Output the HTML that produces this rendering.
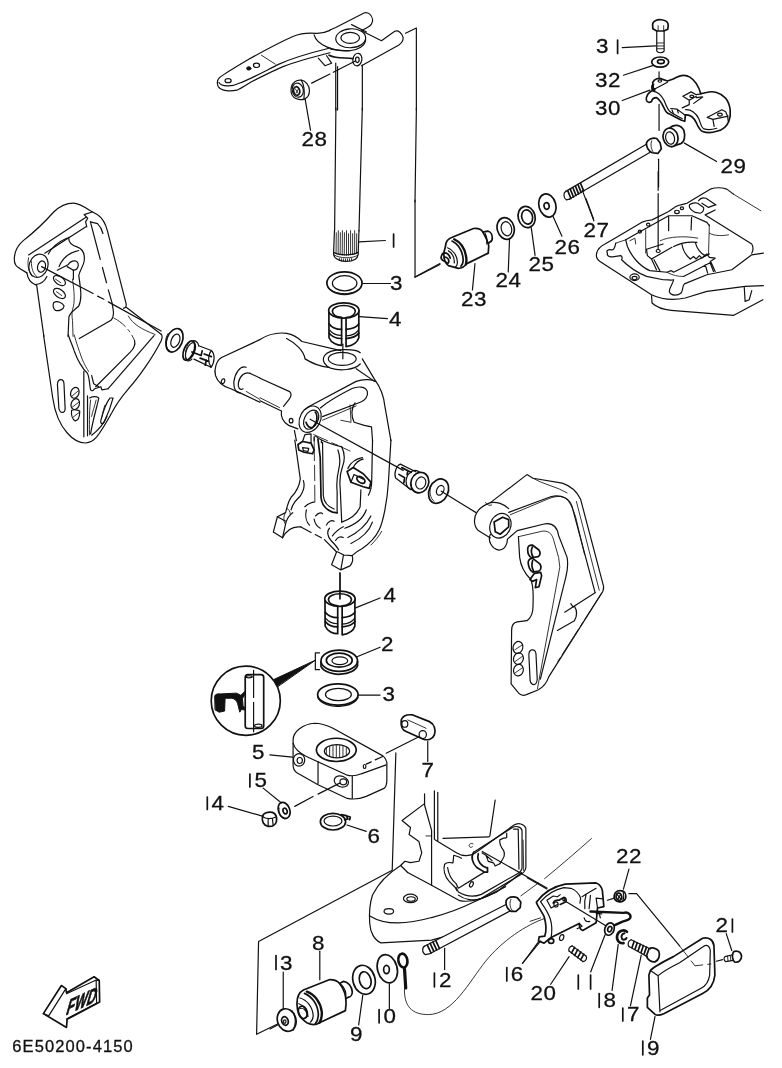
<!DOCTYPE html>
<html><head><meta charset="utf-8">
<style>
html,body{margin:0;padding:0;background:#fff;}
svg{display:block;filter:grayscale(1)}
svg *{vector-effect:non-scaling-stroke}
.s{fill:none;stroke:#111;stroke-width:1.2;stroke-linecap:round;stroke-linejoin:round}
.t{fill:none;stroke:#111;stroke-width:0.85;stroke-linecap:round;stroke-linejoin:round}
.b{fill:none;stroke:#111;stroke-width:1.7;stroke-linecap:round;stroke-linejoin:round}
.w{fill:#fff;stroke:#111;stroke-width:1.2;stroke-linejoin:round;stroke-linecap:round}
.k{fill:#111;stroke:#111;stroke-width:1}
.n{font-family:"Liberation Sans",sans-serif;font-size:20px;fill:#111;stroke:#111;stroke-width:0.3;letter-spacing:0.6px;transform-box:fill-box;transform-origin:left center;transform:scaleX(1.12)}
.c{font-family:"Liberation Sans",sans-serif;font-size:16.5px;fill:#111;letter-spacing:0.6px}
</style></head>
<body>
<svg width="782" height="1068" viewBox="0 0 782 1068">
<rect width="782" height="1068" fill="#fff"/>
<!--ARM left tile origin(210,15) s=6.5167-->
<g transform="translate(210,15) scale(0.15345)" class="s">
<path d="M782,100 C760,110 730,122 690,120 C640,115 590,120 540,140 C450,180 330,245 250,290 C150,350 90,385 60,410 C45,425 45,452 55,468 C75,495 130,500 175,490 C200,480 230,460 270,435 C350,395 420,360 480,335 C570,300 680,272 782,246"/>
<path d="M58,440 C75,468 140,470 190,445 C260,420 350,370 450,320 C550,275 680,240 782,215"/>
<path d="M335,262 L425,320" class="t"/>
<ellipse cx="253" cy="348" rx="14" ry="11" class="k"/>
<ellipse cx="303" cy="328" rx="20" ry="14"/>
<ellipse cx="118" cy="428" rx="20" ry="13"/>
</g>
<!--ARM right tile origin(300,10) s=6.0154-->
<g transform="translate(300,10) scale(0.16624)" class="s">
<path d="M180,120 L215,105 L385,18 C410,10 435,30 437,60 C437,80 425,95 405,105 L370,125 L490,185 L570,128 C590,118 615,140 620,165 C622,185 610,200 595,210 L370,335"/>
<path d="M310,88 L400,132"/>
<ellipse cx="305" cy="170" rx="90" ry="57" transform="rotate(-3 305 170)"/>
<ellipse cx="302" cy="168" rx="56" ry="33"/>
<path d="M85,150 C100,210 200,250 300,245 C350,240 392,215 395,180"/>
<path d="M185,235 C230,242 270,246 300,245"/>
<path d="M110,290 L150,335 L190,320 L160,275"/>
<path d="M175,272 C220,295 270,285 318,292" class="b"/>
<ellipse cx="345" cy="298" rx="27" ry="38" transform="rotate(10 345 298)"/>
<ellipse cx="345" cy="300" rx="11" ry="16"/>
<path d="M70,440 L180,385 M200,375 L330,308"/>
<path d="M215,320 L215,602 M226,340 L226,602" class="s"/>
<path d="M375,332 L375,602"/>
<path d="M635,140 L700,108 L700,602"/>
</g>
<!--tube mid (between tiles)-->
<g class="s">
<path d="M335.9,108 L334.6,231 M362.3,108 L359,231 M416.4,108 L415,202"/>
</g>
<!--tube bottom/washer/bushing tile origin(280,200) s=4.8875-->
<g transform="translate(280,200) scale(0.2046)" class="s">
<path d="M266,150 L262,262 C262,285 290,300 322,300 C355,300 380,288 382,265 L386,150"/>
<path d="M262,255 C285,272 355,272 382,256"/>
<path d="M264,268 C290,287 355,287 381,270" class="t"/>
<path d="M275,160 L274,262 M285,150 L284,266 M295,160 L294,268 M305,150 L304,270 M315,160 L314,270 M325,150 L325,270 M335,165 L335,270 M345,150 L345,268 M355,165 L355,266 M365,150 L365,263 M375,165 L374,260" class="t"/>
<path d="M290,285 L290,295 M300,287 L300,298 M310,288 L310,299 M320,288 L320,300 M330,288 L330,299 M340,287 L340,298 M350,285 L350,296" class="t"/>
<path d="M386,205 L515,198"/>
<!--washer3-->
<ellipse cx="315" cy="406" rx="86" ry="55" class="b"/>
<ellipse cx="316" cy="407" rx="60" ry="37"/>
<path d="M232,420 C250,470 380,472 400,418" class="t"/>
<path d="M402,408 L540,408"/>
<path d="M388,570 L525,580"/>
<!--bracket line bottom-->
<path d="M660,0 L660,378 L782,315"/>
</g>
<text x="390" y="290" class="n">3</text>
<text x="389" y="326" class="n">4</text>
<path d="M393.6,234 L393.6,247" class="b"/>

<g transform="translate(318.9,291.7) scale(0.076726)"><g class="b" style="stroke-width:1.7">
<path d="M130,245 L132,600 C160,670 240,700 296,700 L296,345 M354,345 L354,715 C420,705 500,670 520,600 L520,245" style="fill:#fff"/>
<ellipse cx="325" cy="245" rx="198" ry="100" style="fill:#fff"/>
<path d="M296,335 C230,330 180,300 175,255 C180,205 250,180 325,180 C400,180 470,205 475,255 C470,300 420,330 354,337" style="stroke-width:1.6"/>
<path d="M135,420 C170,470 240,490 296,490 M354,490 C420,485 490,460 520,420"/>
<path d="M140,500 C175,545 240,570 296,570 M354,575 C420,570 490,540 515,500" style="stroke-width:1.2"/>
<path d="M135,540 C170,590 240,610 296,610 M354,612 C420,605 490,580 520,540"/>
</g></g>
<g transform="translate(210,15) scale(0.15345)" class="s">
<path d="M530,470 C535,440 565,420 595,425 C625,430 648,460 648,490 C648,520 635,540 615,548 C595,555 560,550 545,535 C530,520 525,495 530,470Z"/>
<path d="M595,425 C610,450 618,500 612,548"/>
<ellipse cx="572" cy="490" rx="36" ry="46" transform="rotate(-12 572 490)"/>
<ellipse cx="565" cy="495" rx="20" ry="28" transform="rotate(-12 565 495)" class="b"/>
<path d="M555,480 L575,510 M560,510 L575,485" class="t"/>
<path d="M620,548 L655,750"/>
</g>
<text x="301.5" y="146.3" class="n">28</text>
<!--LEFT BRACKET top tile origin(0,195) s=5.5857-->
<g transform="translate(0,195) scale(0.17903)" class="s">
<path d="M150,435 L110,410 C90,400 80,385 80,360 C80,320 95,285 130,255 C200,200 260,140 300,95 C330,65 370,45 410,45 C440,45 470,65 500,85 L545,110 C575,130 590,160 600,200 L705,610 C706,625 700,632 690,632"/>
<path d="M150,435 C155,465 170,490 195,500 L205,505 L245,790"/>
<path d="M195,500 C225,500 250,480 262,455" />
<path d="M707,628 L900,778"/>
<path d="M717,676 C740,720 790,750 866,779" class="t"/>
<path d="M470,110 L515,95 M470,110 L490,130 L478,150 L485,178"/>
<path d="M478,125 L160,335 M480,178 L250,325"/>
<path d="M505,150 L545,160 C560,175 570,195 575,215"/>
<path d="M505,150 L560,360 M572,405 L595,490 M605,530 L625,600 C635,650 640,680 620,700 L443,802"/>
<ellipse cx="215" cy="395" rx="52" ry="66" transform="rotate(18 215 395)"/>
<ellipse cx="232" cy="400" rx="22" ry="32" transform="rotate(15 232 400)"/>
<path d="M175,370 C175,410 185,440 205,455 M160,350 C150,390 160,430 180,455" class="t"/>
<path d="M385,235 C380,260 400,280 430,290 C460,300 475,330 470,370 C465,400 445,420 440,450 C450,520 460,580 440,620 C420,640 395,650 385,680 L380,790"/>
<path d="M375,240 C330,260 290,290 270,330"/>
<path d="M440,310 C390,320 350,350 330,400"/>
<path d="M320,420 L380,390 C400,360 440,360 437,395 C434,412 422,420 410,420 L375,400"/>
<path d="M410,420 L410,470"/>
<path d="M405,470 C415,540 420,600 405,640 C400,660 402,680 405,700 L408,790" class="t"/>
<ellipse cx="332" cy="478" rx="38" ry="22" transform="rotate(35 332 478)"/>
<ellipse cx="332" cy="550" rx="38" ry="22" transform="rotate(35 332 550)"/>
<path d="M300,600 C320,590 350,600 358,620 C355,640 330,650 310,645 C298,635 295,615 300,600Z"/>
<path d="M310,470 L340,490 M315,540 L345,562" class="t"/>
<path d="M232,400 L520,550 M545,565 L580,582 M605,597 L900,760"/>
</g>
<!--LEFT BRACKET bottom tile origin(20,310) s=4.8875-->
<g transform="translate(20,310) scale(0.2046)" class="s">
<path d="M115,122 L160,430 C170,500 195,560 230,600 C260,635 290,650 320,650 C345,648 360,638 375,620 C400,590 425,545 450,500 C470,460 500,420 530,385 C580,330 650,230 690,150 C696,135 696,125 690,118"/>
<path d="M655,125 L430,385"/>
<path d="M460,40 C500,60 540,100 560,150" class="t" stroke-dasharray="14 4 3 4"/>
<path d="M560,150 C565,170 555,190 540,205 L370,375"/>
<path d="M236,122 C245,150 258,178 265,200 C285,255 310,290 330,310 C340,330 340,370 345,390 C350,398 358,395 365,385 L395,375 L400,390 L430,385"/>
<path d="M265,122 C275,160 288,195 300,230 C315,270 330,290 335,300" class="t"/>
<path d="M350,320 L360,360 L385,375"/>
<path d="M312,300 L312,620 M330,420 L330,615" />
<path d="M200,340 C188,340 183,350 183,365 L190,480 C192,495 200,502 210,500 C220,498 222,485 220,470 L215,360 C214,345 208,340 200,340Z"/>
<ellipse cx="268" cy="405" rx="20" ry="27" transform="rotate(20 268 405)"/>
<ellipse cx="270" cy="460" rx="20" ry="27" transform="rotate(20 270 460)"/>
<path d="M252,490 C265,485 285,488 292,495 C292,520 285,540 270,542 C255,535 250,510 252,490Z"/>
<path d="M255,420 L285,395 M255,475 L288,450 M258,525 L290,500" class="t"/>
<path d="M340,430 C355,423 375,423 385,430 C380,460 360,520 345,605"/>
<path d="M345,440 C340,480 338,540 340,610" class="t"/>
<path d="M372,440 C365,470 355,495 350,520" class="t"/>
<path d="M440,430 C425,450 405,500 395,540 C393,555 400,560 410,550 C425,520 445,470 455,430 Z"/>
<path d="M415,465 C410,480 405,500 402,520" class="t"/>
<path d="M350,612 C385,585 410,555 425,520"/>
</g>
<!--SB-left tile origin(150,310) s=4.8875: washer, pin, tube end-->
<g transform="translate(150,310) scale(0.2046)" class="s">
<ellipse cx="120" cy="148" rx="38" ry="60" transform="rotate(22 120 148)" class="b"/>
<ellipse cx="124" cy="150" rx="20" ry="34" transform="rotate(22 124 150)"/>
<path d="M88,115 C70,140 72,185 95,200" class="t"/>
<!--pin-->
<ellipse cx="190" cy="198" rx="24" ry="50" transform="rotate(22 190 198)" class="b"/><ellipse cx="198" cy="201" rx="20" ry="44" transform="rotate(22 198 201)"/>
<path d="M210,150 C225,150 235,160 238,175 M180,248 C190,250 200,245 205,240"/>
<path d="M200,152 C178,165 165,215 178,245" class="t"/>
<path d="M238,175 L300,198 C318,215 318,255 298,280 L215,240"/>
<path d="M300,198 C285,215 280,250 298,280" />
<path d="M205,205 L250,222 L255,200 M245,235 L285,250 M265,215 L300,228 M270,270 L275,245" class="b"/>
<!--tube end-->
<path d="M350,232 C325,245 312,290 320,320 C330,350 360,375 395,385 L440,405"/>
<path d="M350,232 L537,145"/>
<path d="M470,280 C440,270 415,310 410,350 C408,385 420,405 440,405 L537,451"/>
<path d="M490,310 C465,300 440,320 432,355 C428,380 440,395 455,385"/>
<path d="M490,310 L537,332"/>
<path d="M470,398 L537,437" class="t"/>
<ellipse cx="357" cy="348" rx="8" ry="12" transform="rotate(20 357 348)"/>
</g>
<!--SB-top tile origin(260,320) s=4.8875-->
<g transform="translate(260,320) scale(0.2046)" class="s">
<path d="M0,95 C40,70 90,60 130,65 C160,70 190,90 205,105 L395,150"/>
<path d="M130,90 C170,110 215,150 220,190 C260,215 300,228 335,232"/>
<path d="M0,285 L145,350 C155,360 152,375 142,388 L115,422"/>
<path d="M0,395 L105,445 C100,470 112,500 140,515 L185,532"/>
<path d="M0,380 L95,428" class="t"/>
<ellipse cx="152" cy="492" rx="9" ry="11"/>
<ellipse cx="402" cy="190" rx="68" ry="32"/>
<path d="M490,160 C470,140 340,135 315,175 C300,200 320,225 345,235 C390,250 460,245 490,215"/>
<path d="M500,190 L560,290 C590,330 605,370 610,420 L640,590"/>
<path d="M470,238 L560,300"/>
<path d="M235,425 L470,300 C510,285 550,292 565,300"/>
<path d="M295,430 C330,400 400,360 450,335 C480,322 515,325 525,350 C530,375 510,395 490,402 L305,472"/>
<path d="M305,490 L470,420" class="t"/>
<path d="M465,405 C445,430 445,470 460,500 L510,515 L545,522 L550,590"/>
<path d="M440,415 L445,500 L395,490" class="t"/>
<ellipse cx="245" cy="485" rx="50" ry="68" transform="rotate(28 245 485)"/>
<ellipse cx="250" cy="487" rx="33" ry="50" transform="rotate(28 250 487)"/>
<path d="M270,450 C285,470 280,510 250,530 M225,500 C230,520 245,530 255,525" class="b"/>
<path d="M245,485 L700,735"/>
<path d="M262,560 L330,590 M350,600 L380,612 M400,622 L440,640" class="t"/>
<path d="M168,540 L178,590 M265,570 L265,590 M300,600 L300,590"/>
<path d="M405,118 L405,190"/>
</g>
<!--SB-bottom tile origin(260,440) s=4.8875-->
<g transform="translate(260,440) scale(0.2046)" class="s">
<path d="M170,0 L197,190 C192,230 172,260 152,280 C137,300 132,330 125,355 L85,375 L65,450 L110,478 C130,440 160,420 200,425"/>
<path d="M85,375 L128,398 L110,478 M128,398 C135,380 145,365 160,355"/>
<path d="M200,425 L250,452 M270,462 L300,478 M315,487 L372,545" />
<path d="M375,545 L350,610 L395,635 L440,615 C452,600 456,580 450,565 L410,562 L375,545 M395,635 L408,562"/>
<path d="M640,0 L628,200 C622,300 602,400 582,440 C562,480 530,510 500,530 C480,540 460,555 450,565"/>
<path d="M550,0 L546,200 C546,230 540,250 530,270"/>
<path d="M392,650 L392,782"/>
</g>
<!--SB3 tile origin(265,430) s=6.5167-->
<g transform="translate(265,430) scale(0.15345)" class="s">
<path d="M250,330 C260,360 250,400 230,430 C200,460 180,480 170,520"/>
<path d="M320,50 L322,200 M323,230 L324,330 M324,360 L325,470" class="t"/>
<path d="M345,60 C350,100 355,140 360,180 L365,440 C370,490 400,520 440,535 L470,540" class="b"/>
<path d="M375,80 L380,430 C385,470 410,500 450,515"/>
<path d="M500,110 C520,150 520,200 505,240 C490,280 485,330 490,380 L500,600"/>
<path d="M475,130 C490,170 490,220 480,260 C470,300 465,350 470,400 L470,540"/>
<path d="M330,40 C360,70 420,90 500,110"/>
<!--left bolt-->
<path d="M215,95 L245,75 L300,85 L320,130 L310,155 L255,145 L220,130 Z" class="b"/>
<path d="M245,115 L285,120 L280,140 L250,135 Z M245,75 L260,30 L300,25 L300,85"/>
<!--right bolt-->
<path d="M535,270 L575,245 L640,285 L690,340 L680,380 L640,370 L560,340 Z" class="b"/>
<ellipse cx="625" cy="325" rx="30" ry="18" transform="rotate(35 625 325)" class="b"/>
<path d="M575,245 C590,215 615,195 640,190 M540,250 C560,210 600,185 635,180 M560,340 L580,290 L640,320"/>
<!--webs-->
<path d="M260,500 C280,480 310,470 320,470 M270,520 C260,560 270,600 290,620 M330,560 C345,540 365,535 375,545 M320,580 C325,610 340,630 360,640 M400,620 C410,595 435,585 450,595 M420,640 C400,660 410,700 430,720 M440,690 C460,660 490,640 510,630 M430,720 C450,740 470,760 480,782 M460,720 C470,700 490,690 510,700"/>
<path d="M500,600 C560,580 600,550 620,500 L625,390 M520,640 C580,620 640,580 660,520 M540,700 C600,670 660,620 690,560 M560,740 C620,710 680,660 700,600"/>
<path d="M690,750 C720,720 745,690 760,660" class="t"/>
<path d="M140,510 C155,515 165,530 165,550 M130,545 C120,565 120,590 130,610" class="t"/>
</g>
<!--R1 tile origin(385,440) s=4.8875: right pin, washer-->
<g transform="translate(385,440) scale(0.2046)" class="s">
<path d="M75,118 L150,155 M52,186 L125,242 M75,118 C55,125 42,165 52,186"/>
<ellipse cx="142" cy="196" rx="38" ry="48" transform="rotate(20 142 196)"/>
<ellipse cx="170" cy="208" rx="43" ry="51" transform="rotate(20 170 208)" class="b" style="fill:#fff"/>
<ellipse cx="175" cy="210" rx="24" ry="30" transform="rotate(20 175 210)"/>
<path d="M82,135 L112,150 L108,170 M68,168 L96,184 L92,210 M112,150 L128,158" class="b"/>
<ellipse cx="262" cy="250" rx="46" ry="62" transform="rotate(25 262 250)" class="b"/>
<ellipse cx="270" cy="246" rx="17" ry="25" transform="rotate(25 270 246)"/>
<path d="M225,225 C215,250 220,285 240,300" class="t"/>
<path d="M275,250 L445,355"/>
</g>
<!--RB tile origin(460,460) s=4.1077-->
<g transform="translate(460,460) scale(0.24345)" class="s">
<path d="M125,320 L75,290 C55,270 55,235 70,215 C80,195 100,185 125,175 L275,60 L300,75 L420,95 C450,105 480,130 495,160 L590,520 C590,535 585,545 580,550 L365,890 C355,920 340,935 320,945 L270,965 C255,970 245,965 235,950 L210,920 L212,700 C212,680 218,668 235,665 L275,660 C290,650 300,630 300,600 C300,560 305,520 290,490 C270,470 250,440 245,400 L240,315"/>
<path d="M125,305 C112,330 130,365 160,370 C185,368 195,345 195,325 L235,290 L350,262 C385,258 400,280 405,310 L440,400 C445,430 440,460 435,480 L330,900"/>
<path d="M240,315 L340,292 C370,290 380,310 385,330 L405,400 L410,440 L318,940" class="t"/>
<path d="M200,215 L375,150 C420,140 450,160 460,190 L555,545"/>
<path d="M478,170 L572,535" class="t"/>
<path d="M125,175 C150,170 180,180 200,200"/>
<path d="M300,75 C340,100 400,110 440,135" class="t"/>
<ellipse cx="166" cy="270" rx="42" ry="52" transform="rotate(25 166 270)"/>
<path d="M140,255 L175,235 L200,245 L200,275 L165,305 L145,295 Z" class="b"/>
<path d="M105,175 C110,185 120,188 130,185" class="t"/>
<path d="M555,545 L470,600 C482,620 482,640 470,660 L400,700"/>
<path d="M455,590 L465,605 M430,625 L470,600"/>
<path d="M580,550 L400,830" class="t" stroke-dasharray="30 4 4 4"/>
<!--lower slots-->
<ellipse cx="238" cy="770" rx="20" ry="25" transform="rotate(15 238 770)"/>
<ellipse cx="240" cy="816" rx="20" ry="24" transform="rotate(15 240 816)"/>
<ellipse cx="240" cy="863" rx="20" ry="24" transform="rotate(15 240 863)"/>
<path d="M225,780 L255,760 M226,828 L257,806 M226,875 L257,853" class="t"/>
<path d="M295,780 C285,782 282,792 283,805 L288,905 C290,918 298,924 306,922 C315,918 318,908 317,895 L312,795 C310,783 304,778 295,780Z"/>
</g>

<!--RB2 tile origin(470,465) s=5.5857-->
<g transform="translate(470,465) scale(0.17903)" class="s">
<path d="M322,470 C322,452 335,445 350,448 L385,475 C395,490 393,505 380,512 L345,518 C330,512 322,490 322,470Z" class="b"/>
<path d="M348,458 C340,478 343,500 353,514" class="b"/>
<path d="M325,545 C325,527 338,520 352,523 L390,552 C400,568 398,585 385,592 L350,598 C335,590 325,565 325,545Z" class="b"/>
<path d="M350,534 C343,555 346,578 356,594" class="b"/>
<path d="M335,640 L360,605 L395,600 L400,618 L385,680 L365,685 L372,640 L350,650 Z" class="b"/>
<path d="M225,278 L440,188 C490,168 530,172 550,202 C570,230 580,260 590,290 L640,500" class="t"/>
</g>
<!--M1 tile origin(420,130) s=3.91 : parts 23-27-->
<g transform="translate(420,130) scale(0.25575)" class="s">
<path d="M-20,575 L78,522"/>
<path d="M215,522 L205,625"/>
<ellipse cx="335" cy="385" rx="33" ry="43" transform="rotate(-15 335 385)" class="b"/>
<ellipse cx="338" cy="386" rx="20" ry="28" transform="rotate(-15 338 386)"/>
<path d="M350,428 L345,555"/>
<ellipse cx="417" cy="340" rx="33" ry="42" transform="rotate(-15 417 340)" class="b"/>
<ellipse cx="419" cy="340" rx="21" ry="28" transform="rotate(-15 419 340)" class="b"/>
<path d="M435,382 L450,490"/>
<ellipse cx="498" cy="295" rx="33" ry="46" transform="rotate(-15 498 295)" class="b"/>
<ellipse cx="495" cy="297" rx="10" ry="13" transform="rotate(-15 495 297)" class="b"/>
<path d="M520,337 L555,415"/>
<!--bolt 27-->
<path d="M570,240 L885,56 M585,270 L900,87"/>
<path d="M570,240 C560,245 560,265 572,273 L585,270"/>
<path d="M578,238 L590,268 M588,232 L600,262 M598,226 L610,256 M608,220 L620,250 M618,214 L630,244 M628,209 L640,238" class="b"/>
<path d="M635,237 L680,355"/>
</g>
<text x="461" y="306.5" class="n">23</text>
<text x="495.5" y="287.5" class="n">24</text>
<text x="528.5" y="270.7" class="n">25</text>
<text x="554.5" y="254" class="n">26</text>
<text x="583.5" y="237.5" class="n">27</text>

<!--P23 tile origin(435,220) s=11.171-->
<g transform="translate(435,220) scale(0.089514)" class="s">
<path d="M200,190 L430,95 C480,90 520,110 535,135 C560,180 590,230 600,290 L595,370 L350,490 C330,520 290,540 260,540 L150,510 C110,480 95,420 100,360 L118,290 C120,240 150,205 200,190Z" class="b" style="fill:#fff"/>
<path d="M535,135 L590,125 C620,130 640,165 640,200 C640,225 630,240 615,245 L598,262" class="b"/>
<path d="M560,150 C580,190 585,230 578,268"/>
<path d="M215,215 C290,250 340,330 350,430 C352,460 350,480 345,495" style="stroke-width:2.4"/>
<path d="M190,235 C260,270 310,350 315,450 C315,480 305,500 290,515" class="b"/>
<path d="M140,310 C200,330 250,400 250,470 C250,500 240,520 225,525"/>
<path d="M150,345 C190,365 220,420 215,480"/>
<path d="M75,395 C80,375 100,365 125,370 C150,380 165,400 170,425 M75,395 C65,415 70,440 85,450 L120,470 C130,480 135,490 140,485" class="b"/>
<path d="M100,420 C115,410 140,420 150,440 C160,465 150,480 140,485" class="b"/>
</g>
<!--UR tile origin(590,5) s=4.3444-->
<g transform="translate(590,5) scale(0.23018)" class="s">
<!--bolt31-->
<path d="M272,85 C272,70 290,62 310,64 C328,66 340,75 340,88 L338,105 L320,113 L290,113 L273,103 Z" class="b"/>
<path d="M290,113 L290,200 C295,210 315,210 322,200 L322,113"/>
<path d="M292,165 L320,165 M292,178 L320,178 M292,190 L320,190" class="t"/>
<path d="M296,90 L296,110 M320,90 L320,112" class="t"/>
<path d="M140,185 L285,178"/>
<!--washer32-->
<ellipse cx="305" cy="248" rx="37" ry="22" class="b"/>
<ellipse cx="308" cy="246" rx="15" ry="9" class="b"/>
<path d="M145,305 L275,262"/>
<path d="M300,290 L300,315"/>
<!--clamp30 moved-->
<path d="M140,415 L260,370"/>
<path d="M300,432 L300,545"/>
<!--collar29-->
<path d="M345,535 C365,515 395,520 408,545 C415,570 410,595 395,602 L355,615 Z" class="b" style="fill:#fff"/>
<ellipse cx="350" cy="575" rx="32" ry="41" transform="rotate(-15 350 575)" class="b" style="fill:#fff"/>
<ellipse cx="348" cy="578" rx="19" ry="27" transform="rotate(-15 348 578)"/>
<path d="M410,600 L550,680"/>
<!--bolt27 head-->
<path d="M245,600 C250,585 270,575 290,580 L305,600 L310,625 L295,645 L270,642 C255,635 245,620 245,600Z" class="b" style="fill:#fff"/>
<path d="M268,590 C262,605 265,625 275,640" class="t"/>
<path d="M298,670 L298,790"/>
</g>
<text x="596" y="53.5" class="n">3</text>
<path d="M617.6,40 L617.6,53.5" class="b"/>
<text x="595" y="86.7" class="n">32</text>
<text x="595" y="115.5" class="n">30</text>
<text x="720.5" y="173" class="n">29</text>

<!--C30 tile origin(640,65) s=7.82-->
<g transform="translate(640,65) scale(0.12788)" class="s">
<path d="M95,200 C70,215 45,240 50,275 C55,295 75,295 90,285 C95,265 110,255 130,255 C160,275 175,310 190,340 C200,365 215,380 235,385 L320,430 L350,440 L355,390 C395,385 420,410 440,450 C455,485 465,510 490,520 C530,535 580,525 600,518 C640,510 680,480 695,440 C715,390 710,310 670,260 C630,215 570,200 520,215 L475,225 C460,170 430,120 390,95 C350,70 300,85 260,110 L215,125 L155,105 C120,105 95,125 100,150 C95,170 98,190 95,200Z" class="b" style="fill:#fff"/>
<ellipse cx="155" cy="126" rx="14" ry="9"/>
<path d="M100,205 C140,210 170,240 190,280 C205,320 215,350 240,370 L330,420"/>
<path d="M108,150 C100,165 102,180 115,188 L215,135" />
<path d="M98,165 C95,180 100,192 112,195" style="stroke-width:2.6"/>
<path d="M240,340 L290,345 L355,395 M250,352 L262,382 M290,345 L300,375"/>
<path d="M355,350 C400,345 440,380 460,420 C475,460 480,490 500,500 C530,510 570,505 600,495"/>
<path d="M335,245 L400,210 L440,232 L478,226 M335,245 L385,275 L440,245 M385,275 L385,310 L330,335 M440,255 L490,250 L420,300"/>
<ellipse cx="405" cy="245" rx="15" ry="10"/>
<path d="M525,410 L640,350 L670,365 L685,400 L690,440 M525,410 L570,425 L690,400 M570,425 L580,480"/>
<ellipse cx="625" cy="388" rx="18" ry="12"/>
</g>
<!--H2 tile origin(590,180) s=6.0154-->
<g transform="translate(590,180) scale(0.16624)" class="s">
<path d="M410,-50 L410,62 M410,82 L410,418"/>
<ellipse cx="410" cy="427" rx="12" ry="9"/>
<!--outer flange-->
<path d="M40,440 C45,420 60,400 90,385 L150,350 L310,255 L340,245 L373,240 L473,190 L508,165 C523,150 553,150 583,140 L723,55 C753,45 793,45 823,55 L863,85"/>
<path d="M863,85 L1028,185" class="t" stroke-dasharray="60 8 8 8"/>
<path d="M40,440 C35,460 45,480 60,490 L370,690 C433,720 503,725 573,710 L703,670 L853,650 L933,640 L1043,635"/>
<path d="M370,695 C372,715 373,730 373,740 C400,765 440,780 488,784 L865,814 L1040,720"/>
<path d="M928,645 L933,730 L958,720 L973,665"/>
<!--inner-->
<path d="M215,360 L330,295 L473,215 L613,215 L703,255 L718,275"/>
<path d="M693,210 L753,180 M693,210 L973,385 C983,400 983,425 973,440"/>
<path d="M718,320 C753,340 803,335 833,330" class="t"/>
<path d="M215,360 L225,400 C250,460 300,520 360,545 L463,555 L488,545 L503,555 L718,445"/>
<path d="M105,440 C95,425 110,415 130,420 C145,425 150,400 155,380 M105,440 C100,455 115,465 135,462 L185,455 C195,460 195,470 190,480 C230,520 290,560 340,580 L440,600 C470,600 490,605 503,600 C498,630 473,650 478,675 C488,695 523,700 548,680 C563,660 553,635 568,625 L703,570 L853,540 L973,450 L1043,440"/>
<path d="M155,380 L215,360 M240,365 L270,350 L275,385" class="t"/>
<ellipse cx="268" cy="585" rx="28" ry="20"/><ellipse cx="268" cy="590" rx="15" ry="10"/>
<ellipse cx="350" cy="268" rx="10" ry="9"/><ellipse cx="300" cy="310" rx="10" ry="9"/>
<ellipse cx="523" cy="192" rx="14" ry="10"/><ellipse cx="553" cy="170" rx="10" ry="8"/>
<path d="M598,150 C608,140 633,135 648,140 L683,165 C688,180 678,195 663,200 L633,195 C613,185 593,170 598,150Z"/>
<path d="M653,125 C663,110 683,105 698,110 L758,150 M673,140 L713,165 L753,150"/>
<path d="M473,220 L473,305 M611,225 L608,300"/>
<path d="M335,300 L335,440 M718,270 L713,445" class="t" stroke-dasharray="30 6 6 6"/>
<path d="M423,365 C473,340 573,335 648,350" class="t" stroke-dasharray="40 6 6 6"/>
<!--block-->
<path d="M345,415 L440,385 M340,415 L345,455 L370,475 L493,405"/>
<path d="M503,400 C543,380 593,370 643,375 M553,385 C558,420 573,450 603,475 M633,375 C643,410 663,440 693,455"/>
<path d="M603,475 L623,460 L638,475 L658,455 L673,470 L703,445 L718,465 L753,470 L723,490"/>
<path d="M370,475 L400,540 M385,480 L420,545 M563,580 L728,495 L753,550 M693,510 L708,560 M723,500 L743,550"/>
<path d="M463,555 C500,575 530,580 563,580" class="t"/>
</g>
<g transform="translate(586,170) scale(0.25064)" class="s"><path d="M0,115 L30,195"/></g>
<!--L1 tile origin(200,560) s=3.5545-->
<g transform="translate(200,560) scale(0.28133)" class="s">
<path d="M497,45 L497,130"/>
<path d="M553,170 L640,135"/>
<!--seal 2-->
<path d="M430,362 L430,378 C440,400 480,408 500,406 C530,405 555,392 560,375 L560,360" class="b"/>
<ellipse cx="495" cy="358" rx="65" ry="38" class="b"/>
<ellipse cx="495" cy="356" rx="46" ry="25" class="b"/>
<ellipse cx="497" cy="358" rx="28" ry="14"/>
<path d="M556,345 L640,310"/>
<path d="M425,330 L410,330 L410,390 L425,390"/>
<path d="M410,356 L262,425 L276,449 Z" class="k"/>
<!--washer3 lower-->
<path d="M418,482 L420,492 C435,515 470,522 495,520 C530,518 555,505 562,488" />
<ellipse cx="490" cy="478" rx="72" ry="38" class="b"/>
<ellipse cx="492" cy="478" rx="46" ry="22"/>
<path d="M563,480 L640,480"/>
</g>
<text x="383.5" y="602.5" class="n">4</text>
<text x="381" y="651.5" class="n">2</text>
<text x="382.5" y="700.7" class="n">3</text>

<g transform="translate(315,580) scale(0.076726)"><g class="b" style="stroke-width:1.7">
<path d="M130,245 L132,600 C160,670 240,700 296,700 L296,345 M354,345 L354,715 C420,705 500,670 520,600 L520,245" style="fill:#fff"/>
<ellipse cx="325" cy="245" rx="198" ry="100" style="fill:#fff"/>
<path d="M296,335 C230,330 180,300 175,255 C180,205 250,180 325,180 C400,180 470,205 475,255 C470,300 420,330 354,337" style="stroke-width:1.6"/>
<path d="M135,420 C170,470 240,490 296,490 M354,490 C420,485 490,460 520,420"/>
<path d="M140,500 C175,545 240,570 296,570 M354,575 C420,570 490,540 515,500" style="stroke-width:1.2"/>
<path d="M135,540 C170,590 240,610 296,610 M354,612 C420,605 490,580 520,540"/>
</g><path d="M325,150 L325,245" class="b"/></g>

<!--DC tile origin(205,660) s=9.2-->
<g transform="translate(205,660) scale(0.1087)" class="s">
<circle cx="375" cy="375" r="318" class="b"/>
<path d="M395,135 C380,135 370,145 370,160 L370,605 C370,620 380,630 395,630 L515,630 C530,630 540,620 540,605 L540,160 C540,145 530,135 515,135 Z" class="b"/>
<ellipse cx="405" cy="155" rx="30" ry="10"/>
<ellipse cx="490" cy="605" rx="35" ry="15"/>
<path d="M447,95 L447,345 M447,390 L447,660"/>
<path d="M90,330 C95,315 115,310 140,312 L290,305 L330,325 L365,290 L365,320 L345,355 L350,420 L365,440 L365,460 L335,455 L320,480 L300,400 C290,370 270,355 245,352 L185,352 L180,470 L130,480 L95,460 Z" class="k"/>
</g>
<!--L2 tile origin(200,700) s=3.0077-->
<g transform="translate(200,700) scale(0.33248)" class="s">
<!--block5-->
<path d="M280,120 C280,95 310,72 345,70 C365,70 385,78 400,85 L550,168 C562,178 563,190 562,200 L562,240 C562,252 560,260 555,265 L500,290 C480,298 460,300 440,295 L355,255 L290,218 C282,212 280,205 280,195 Z"/>
<path d="M280,130 C285,150 300,160 320,170 L440,225 C455,230 470,228 485,222 L560,195"/>
<path d="M355,185 L355,252 M458,230 L458,296"/>
<ellipse cx="410" cy="150" rx="60" ry="35" class="b"/>
<ellipse cx="412" cy="154" rx="38" ry="20"/>
<path d="M380,145 L380,162 M390,140 L390,168 M400,138 L400,171 M410,136 L410,172 M420,137 L420,172 M430,138 L430,170 M440,142 L440,166" class="t"/>
<ellipse cx="298" cy="180" rx="17" ry="19"/><ellipse cx="300" cy="182" rx="8" ry="9"/>
<ellipse cx="425" cy="245" rx="22" ry="16" transform="rotate(20 425 245)"/><ellipse cx="431" cy="246" rx="10" ry="9"/>
<ellipse cx="495" cy="200" rx="4" ry="6"/>
<path d="M210,165 L278,172"/>
<path d="M285,320 L340,290 M355,283 L420,250"/>
<!--washer15-->
<ellipse cx="253" cy="332" rx="17" ry="25" transform="rotate(-20 253 332)" class="b"/>
<ellipse cx="256" cy="334" rx="6" ry="9" transform="rotate(-20 256 334)" class="b"/>
<path d="M238,325 C235,340 242,355 255,358" class="t"/>
<path d="M190,265 L245,310"/>
<!--nut14-->
<path d="M188,350 C190,340 205,335 218,338 C228,342 232,352 230,365 C228,375 218,382 205,380 C192,378 185,365 188,350Z" class="b"/>
<path d="M190,352 C200,358 215,358 228,352 M205,358 L205,380 M218,357 L220,378" />
<path d="M85,320 L190,350"/>
<!--ring6-->
<ellipse cx="400" cy="366" rx="38" ry="25" class="b"/>
<ellipse cx="400" cy="364" rx="27" ry="15"/>
<path d="M425,345 L440,348 L445,358 L435,360 M440,348 L452,352 L450,360" class="b"/>
<path d="M442,376 L500,395"/>
<!--link7-->
<path d="M605,65 C605,50 620,42 640,45 L690,65 C705,72 710,90 705,105 C700,118 685,122 672,118 L620,95 C608,90 604,78 605,65Z" class="b"/>
<ellipse cx="616" cy="72" rx="9" ry="10"/><ellipse cx="670" cy="104" rx="11" ry="12"/>
<path d="M625,60 L680,85" class="t"/>
<path d="M685,125 L685,185"/>
<path d="M560,160 L660,110 M500,193 L515,186 M527,180 L550,170"/>
</g>
<text x="252" y="759.2" class="n">5</text>
<path d="M249.9,774 L249.9,787" class="b"/><text x="254.5" y="787.1" class="n">5</text>
<path d="M207.3,797 L207.3,809.5" class="b"/><text x="211.5" y="809.7" class="n">4</text>
<text x="367.5" y="843" class="n">6</text>
<text x="421.5" y="777" class="n">7</text>
<!--LC tile origin(350,760) s=3.5545-->
<g transform="translate(350,760) scale(0.28133)" class="s">
<path d="M163,-25 L150,392 L-325,645 L-332,975 L-245,932"/>
<!--jagged/plate-->
<path d="M265,155 L185,215 L215,240 L210,265 L245,290 L255,330 L245,360 L215,365 L195,360 L180,375 L205,400"/>
<path d="M180,375 C140,400 100,440 80,480 C70,510 68,550 70,580 C72,610 85,640 110,650 L290,640 L345,625 L420,600"/>
<path d="M72,555 C120,585 200,585 290,560 C350,545 400,525 440,505 C480,487 520,468 553,450"/>
<path d="M205,400 L290,445"/>
<ellipse cx="215" cy="492" rx="25" ry="15"/><ellipse cx="217" cy="494" rx="15" ry="8"/>
<ellipse cx="138" cy="538" rx="17" ry="10"/>
<path d="M265,120 L265,160 L290,250 L290,445 L390,500 C420,506 470,495 520,470 L610,400"/>
<path d="M300,110 L300,282 M312,115 L312,287" />
<path d="M270,270 L290,270" class="t"/>
<!--axis-->
<path d="M470,325 L700,455"/>
<!--bolt12-->
<path d="M558,512 L268,660 C255,665 255,685 268,692 L285,688 L570,536 Z" style="fill:#fff"/>
<path d="M555,500 C560,488 580,482 595,490 L607,505 L605,525 L590,538 L572,538 C560,530 553,515 555,500Z" class="b" style="fill:#fff"/>
<path d="M572,495 C566,508 568,525 578,537" class="t"/>
<path d="M275,658 L288,686 M285,652 L298,680 M295,647 L308,675 M305,642 L318,670" class="b"/>
</g>

<!--W tile origin(420,800) s=6.5167-->
<g transform="translate(420,800) scale(0.15345)" class="s">
<path d="M100,260 L240,345 C280,370 330,365 360,345 L610,165 C640,145 680,155 690,185 L690,440 C685,470 670,480 650,490 L400,640 C350,660 290,650 250,620"/>
<path d="M350,340 L600,180 C630,165 660,175 665,200 L665,445 C660,465 650,472 635,480 L400,615 C350,635 300,630 250,600 L235,570"/>
<path d="M610,190 L640,190 L645,450"/>
<path d="M150,250 L450,240 M490,0 L455,235"/>
<path d="M160,420 C150,450 160,500 190,530 L230,570 L240,590 M160,420 C170,405 190,405 215,410 L220,360 L250,370 L270,380"/>
<path d="M180,440 C185,480 205,520 235,545 L250,575 L420,470"/>
<path d="M350,340 C330,370 340,410 370,440 L420,470 L440,470 L440,440 M380,350 C370,380 385,410 410,430 L440,445" class="b"/>
<path d="M405,345 L430,360 L445,400 L480,410 L490,430 L520,415 M430,360 L470,395"/>
<path d="M520,260 C515,290 530,310 545,330 C555,350 545,380 530,400 L520,415 M520,260 L540,250 L565,245 L565,215"/>
<ellipse cx="335" cy="550" rx="11" ry="18" transform="rotate(25 335 550)"/>
<path d="M345,285 C335,278 320,285 320,298 C322,310 335,312 342,305" class="t"/>
</g>
<!--LR tile origin(520,840) s=3.2583-->
<g transform="translate(520,840) scale(0.30691)" class="s">
<path d="M10,0 L12,100" class="t"/>
<path d="M3,182 L60,140 M80,126 C130,85 185,38 233,-5" class="t"/>
<!--b16 moved-->
<path d="M355,95 L337,160"/>
<path d="M355,175 L380,175 L520,345"/>
<path d="M320,340 L300,490"/>
<!--bolt17-->
<path d="M362,325 L425,355 M355,347 L415,380"/>
<path d="M362,325 C352,328 350,340 355,347"/>
<path d="M372,330 L365,350 M382,335 L375,355 M392,340 L385,360 M402,344 L395,365 M412,349 L405,370" class="b"/>
<path d="M420,355 C428,348 445,352 452,362 C458,375 452,392 440,397 C428,398 415,390 412,378 Z" class="b"/>
<path d="M395,375 L360,540"/>
<!--cover19-->
<path d="M425,425 C440,410 470,395 500,380 L595,320 C615,315 630,325 632,345 L635,440 C632,470 615,490 595,500 L470,565 C455,572 445,572 440,568 L415,545 L415,515 L422,505 L420,440 Z" class="b"/>
<path d="M450,442 C470,425 500,410 520,400 L600,345 C612,340 618,348 620,360 L618,440 C615,460 605,475 590,483 L458,555"/>
<path d="M425,425 L450,442 L456,560"/>
<path d="M520,345 L570,410 L622,404" class="t" stroke-dasharray="14 5"/>
<path d="M440,575 L425,650"/>
<!--bolt21-->
<path d="M695,365 C705,358 720,364 722,378 C722,392 712,400 700,398 C692,392 690,375 695,365Z" class="b"/>
<path d="M668,380 L693,374 M670,396 L695,392 M668,380 C663,384 664,393 670,396" />
<path d="M676,378 L678,394 M685,376 L687,393" class="t"/>
<path d="M640,395 L660,390"/>
<path d="M672,305 L690,360"/>
<!--screw20-->
<path d="M170,345 L215,378 M160,362 L205,396"/>
<path d="M170,345 C160,348 157,357 160,362 M215,378 C220,385 215,395 205,396"/>
<path d="M178,350 L168,368 M188,357 L178,376 M198,365 L188,383 M208,372 L198,390" class="b"/>
<path d="M160,380 L100,470"/>
<path d="M60,332 L10,400"/>

</g>
<text x="616" y="863" class="n">22</text>
<text x="715.5" y="932" class="n">2</text><path d="M732.4,919 L732.4,932" class="b"/>
<path d="M578.3,975 L578.3,989 M590.6,975 L590.6,989" class="b"/>
<path d="M599.2,993.5 L599.2,1007.3" class="b"/><text x="603.5" y="1007.3" class="n">8</text>
<path d="M622.8,1008 L622.8,1021" class="b"/><text x="627" y="1021" class="n">7</text>
<path d="M642.8,1041 L642.8,1054.8" class="b"/><text x="647" y="1054.8" class="n">9</text>
<text x="530.5" y="999.8" class="n">20</text>
<path d="M506.8,967.5 L506.8,981" class="b"/><text x="510.8" y="981" class="n">6</text>

<!--B16 tile origin(530,870) s=7.109-->
<g transform="translate(530,870) scale(0.14066)" class="s">
<path d="M-20,55 L120,135"/>
<path d="M45,230 C80,180 150,120 250,100 L470,92 C495,100 510,120 515,150 L520,205 L525,260 L480,270 L475,325 L470,375 L375,430 C360,425 350,410 350,380 L150,480 L100,520 L60,505 L65,475 L105,470 C115,440 115,380 100,330 C80,290 55,260 45,230Z" class="b" style="fill:#fff"/>
<path d="M75,225 C100,260 130,300 145,350 C160,400 155,450 150,480"/>
<path d="M75,225 C110,185 170,140 240,125 L290,130 C320,140 350,170 360,200 L355,235"/>
<path d="M120,215 L165,185 L195,190 L215,175 M120,215 L150,270 L195,245"/>
<path d="M165,235 C170,220 190,210 205,215 L240,195 C255,195 260,210 255,225 L215,245" class="b"/>
<ellipse cx="185" cy="245" rx="15" ry="18"/><ellipse cx="240" cy="210" rx="7" ry="9"/>
<path d="M370,190 L400,170 L470,130 M400,170 C390,200 385,240 390,275 M430,180 L420,275 M470,200 L520,205 M480,270 L470,200"/>
<path d="M350,380 L370,400 L335,418 M385,340 C390,360 405,370 425,365"/>
<ellipse cx="225" cy="480" rx="14" ry="22" transform="rotate(20 225 480)"/>
<ellipse cx="150" cy="505" rx="19" ry="17" class="b"/>
<path d="M240,215 L545,400"/>
<ellipse cx="565" cy="420" rx="33" ry="45" transform="rotate(20 565 420)" class="b" style="fill:#fff"/>
<ellipse cx="567" cy="420" rx="14" ry="20" transform="rotate(20 567 420)" class="b"/>
<path d="M430,295 L665,305 C700,295 722,320 712,342 C700,360 670,362 650,370 L603,392" style="stroke-width:2.4"/>
<path d="M490,300 L500,340 M470,310 L510,312" />
<path d="M690,440 C670,420 630,430 620,465 C612,500 635,525 665,520" style="stroke-width:2.6"/>
<path d="M672,450 C650,455 645,475 655,490 C665,500 680,495 686,483" style="stroke-width:2"/>
<!--nut22-->
<path d="M600,175 C605,150 635,140 660,150 C680,160 685,185 678,205 C668,225 640,232 618,222 C600,212 596,192 600,175Z" class="b"/>
<ellipse cx="632" cy="190" rx="20" ry="26" transform="rotate(-15 632 190)" class="b"/>
<path d="M620,175 L645,205 M625,205 L642,178 M660,150 C668,170 668,195 660,222" />
<path d="M550,215 L600,200"/>
<path d="M0,365 L75,340" class="t"/>
<path d="M533,462 L431,725"/>
</g>
<!--LB tile origin(240,900) s=2.4437-->
<g transform="translate(240,900) scale(0.40921)" class="s">
<path d="M195,125 L195,195"/>
<!--washer9-->
<ellipse cx="303" cy="195" rx="27" ry="36" transform="rotate(-15 303 195)" class="b"/>
<ellipse cx="306" cy="196" rx="14" ry="21" transform="rotate(-15 306 196)" class="b"/>
<path d="M300,233 L290,305"/>
<!--washer10-->
<ellipse cx="360" cy="168" rx="24" ry="35" transform="rotate(-15 360 168)" class="b"/>
<ellipse cx="358" cy="170" rx="7" ry="10" class="b"/>
<path d="M365,205 L365,265"/>
<!--eye terminal-->
<ellipse cx="398" cy="148" rx="11" ry="17" transform="rotate(-10 398 148)" stroke="#111" stroke-width="2.6" fill="none"/>
<path d="M402,168 L405,215" stroke="#111" stroke-width="3.2" fill="none"/>
<path d="M402,215 C400,260 420,280 460,280 C520,280 560,200 600,150 C640,100 700,60 745,45" class="t"/>
<path d="M500,118 L500,170"/>
<path d="M690,155 L735,100"/>
<!--plate bottom-->
</g>
<path d="M276,955.5 L276,969.5" class="b"/><text x="280" y="969.6" class="n">3</text>
<text x="312" y="950" class="n">8</text>
<text x="350" y="1041.2" class="n">9</text>
<path d="M379.1,1009.7 L379.1,1022.8" class="b"/><text x="383.5" y="1022.8" class="n">0</text>
<path d="M434.4,973 L434.4,986.8" class="b"/><text x="439" y="986.8" class="n">2</text>

<!--P8 tile origin(270,960) s=8.689-->
<g transform="translate(270,960) scale(0.11509)" class="s">
<path d="M115,105 L115,420"/>
<path d="M0,600 L125,535"/>
<ellipse cx="145" cy="522" rx="80" ry="100" transform="rotate(-18 145 522)" class="b" style="fill:#fff"/>
<path d="M190,440 C225,480 230,560 200,612" />
<ellipse cx="130" cy="530" rx="28" ry="38" transform="rotate(-18 130 530)" class="b"/>
<ellipse cx="128" cy="535" rx="11" ry="15" />
<path d="M290,260 L520,170 C560,170 590,185 605,205 C640,250 665,320 660,390 L655,440 L430,545 C400,565 360,565 320,545 C260,510 230,440 235,370 C235,320 255,280 290,260Z" class="b" style="fill:#fff"/>
<path d="M605,205 L640,185 C680,190 710,230 715,275 C715,300 700,320 685,322 L660,335" class="b"/>
<path d="M620,215 C650,245 665,290 657,332"/>
<path d="M320,275 C390,300 440,370 450,450 C452,490 445,520 430,545" style="stroke-width:2.4"/>
<path d="M300,290 C370,320 415,390 420,470 C420,510 410,535 395,550" class="b"/>
<path d="M260,330 C320,345 370,410 375,480 C375,510 365,530 350,540"/>
<path d="M250,380 C290,390 330,440 330,490"/>
<ellipse cx="285" cy="455" rx="38" ry="55" transform="rotate(-15 285 455)" class="b"/>
<path d="M265,420 C290,415 320,440 322,475 C322,495 312,505 300,505"/>
</g>
<!--F tile origin(0,960) s=4.8875-->
<g transform="translate(0,960) scale(0.2046)" class="s">
<path d="M212,262 L300,125 L322,140 L325,160 L460,82 L485,100 L487,205 L328,290 L325,330 Z" class="b"/>
<path d="M238,273 L322,140 M212,262 L238,273 M325,165 L470,98 L472,212 L325,288 M470,98 L485,100"/>
<text transform="matrix(1,-0.46,-0.28,1,319,271)" x="0" y="0" style="font-family:'Liberation Sans',sans-serif;font-weight:bold;font-size:112px;fill:#111;stroke:#111;stroke-width:0.9" textLength="144" lengthAdjust="spacingAndGlyphs">FWD</text>
</g>
<text x="12.3" y="1052" class="c" style="stroke:#111;stroke-width:0.3" textLength="121" lengthAdjust="spacing">6E50200-4150</text>
</svg>
</body></html>
